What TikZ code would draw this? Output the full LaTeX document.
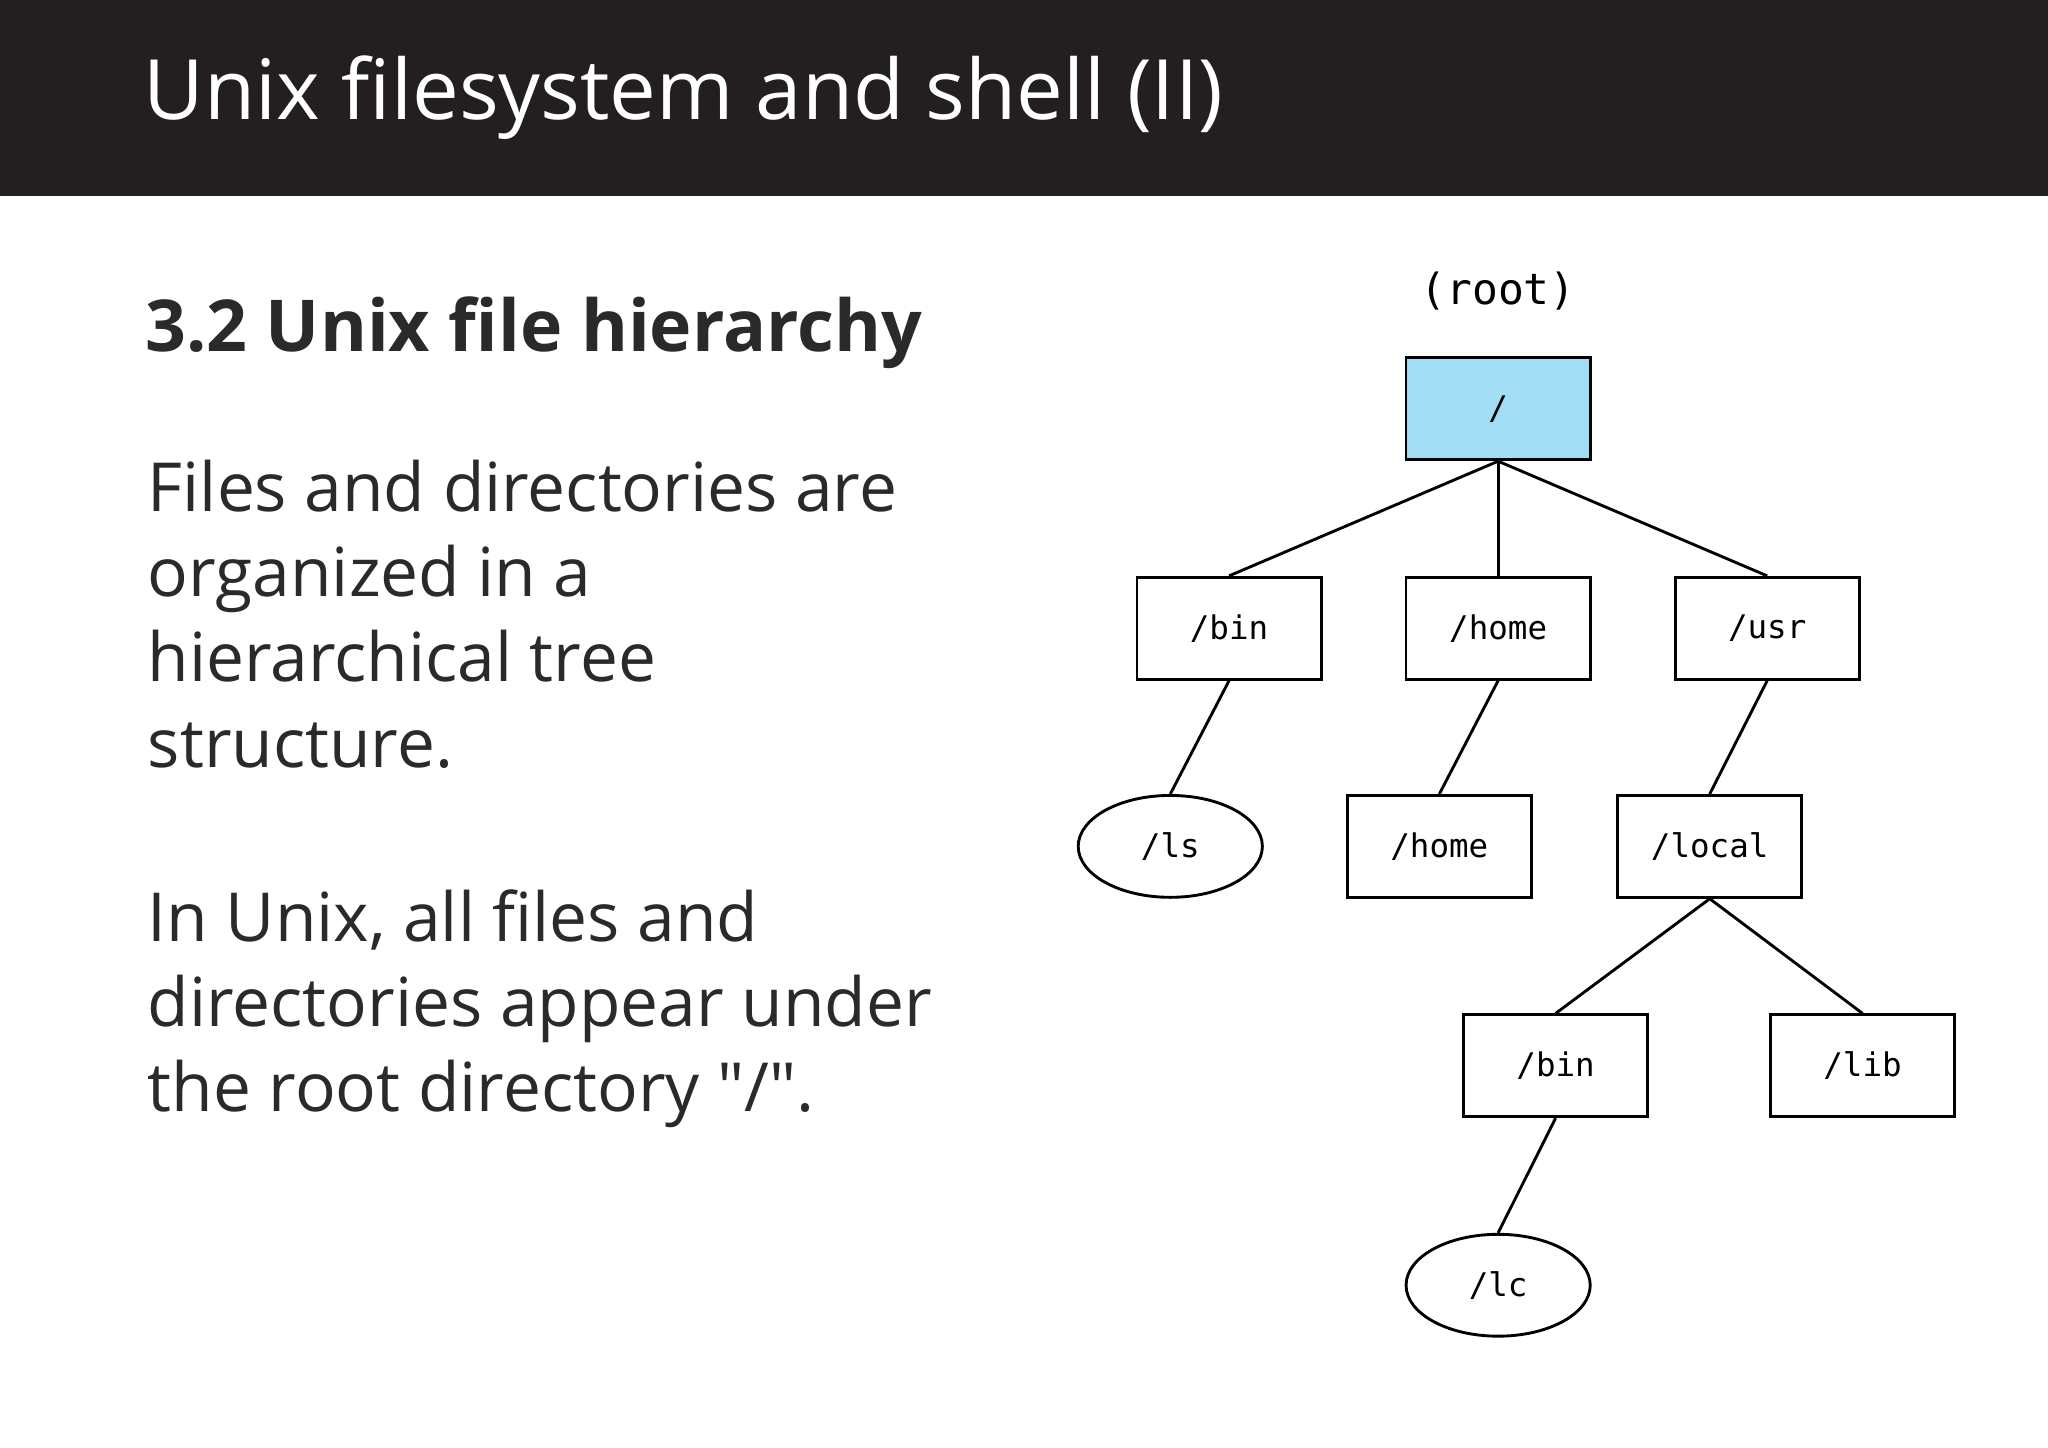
\documentclass[tikz,border=0pt]{standalone}
\usepackage{fontspec}
\setmainfont{Open Sans}
\newfontfamily\treemono{DejaVu Sans Mono}
\usetikzlibrary{shapes.geometric}
\definecolor{band}{HTML}{231F20}
\definecolor{ink}{HTML}{2A2A2A}
\definecolor{rootfill}{HTML}{A2DDF6}
\begin{document}
\begin{tikzpicture}[x=1bp,y=-1bp,
  dir/.style={draw,line width=2.2bp,minimum width=141bp,minimum height=78bp,inner sep=0pt,font=\treemono\fontsize{25}{28}\selectfont},
  file/.style={dir,ellipse},
  edge/.style={line width=2.2bp}]
\useasboundingbox (0,0) rectangle (1568,1108);
\fill[white] (0,0) rectangle (1568,1108);
\fill[band] (0,0) rectangle (1568,150);
\node[anchor=west,text=white,font=\fontsize{64}{72}\selectfont,inner sep=0pt] (title) at (110,75) {Unix filesystem and shell (II)};
\node[anchor=west,text=ink,font=\bfseries\fontsize{55}{62}\selectfont,inner sep=0pt] (head) at (111,255) {3.2 Unix file hierarchy};
\node[anchor=north west,text=ink,font=\fontsize{52}{65.5}\selectfont,inner sep=0pt,align=left] (p1) at (113,352) {Files and directories are\\organized in a\\hierarchical tree\\structure.};
\node[anchor=north west,text=ink,font=\fontsize{52}{65.5}\selectfont,inner sep=0pt,align=left] (p2) at (113,681) {In Unix, all files and\\directories appear under\\the root directory \textquotedbl/\textquotedbl.};
\node[font=\treemono\fontsize{33}{38}\selectfont] (lbl) at (1147,223) {(root)};
\node[dir,fill=rootfill] (root) at (1147,313) {/};
\node[dir] (bin) at (941,481) {/bin};
\node[dir] (home) at (1147,481) {/home};
\node[dir] (usr) at (1353,481) {/usr};
\node[file] (ls) at (896,648) {/ls};
\node[dir] (home2) at (1102,648) {/home};
\node[dir] (local) at (1309,648) {/local};
\node[dir] (bin2) at (1191,816) {/bin};
\node[dir] (lib) at (1426,816) {/lib};
\node[file] (lc) at (1147,984) {/lc};
\foreach \a/\b in {root/bin,root/home,root/usr,bin/ls,home/home2,usr/local,local/bin2,local/lib,bin2/lc}
  \draw[edge] (\a.south) -- (\b.north);
\end{tikzpicture}
\end{document}
